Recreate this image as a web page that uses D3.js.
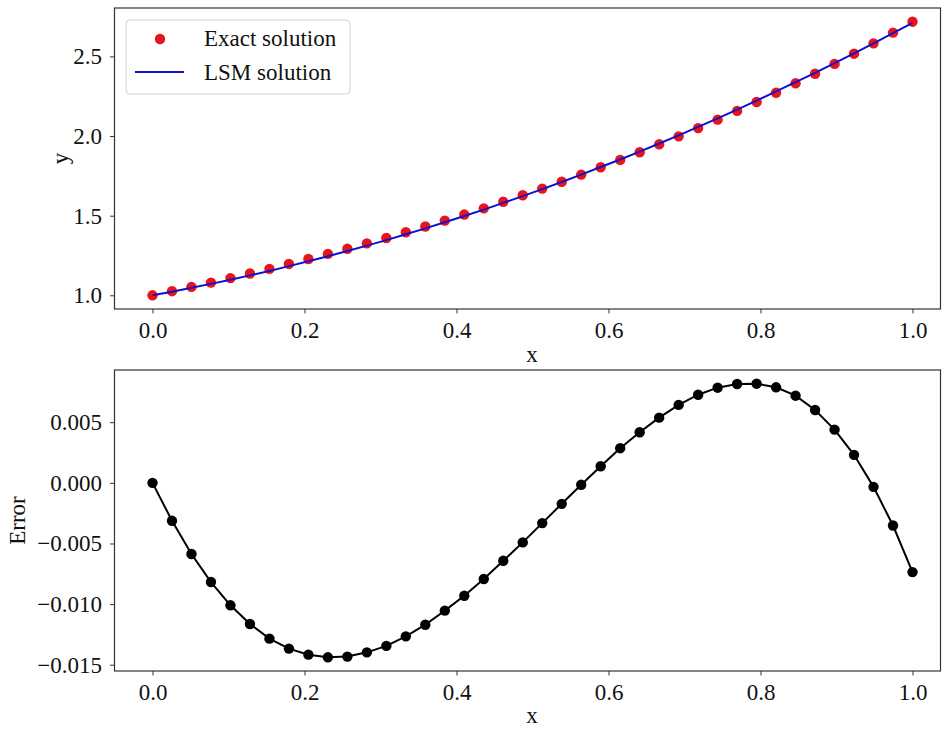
<!DOCTYPE html>
<html>
<head>
<meta charset="utf-8">
<script src="https://cdn.jsdelivr.net/npm/d3@7"></script>
<style>
  html, body { margin: 0; padding: 0; background: #fff; }
  svg { display: block; }
  text { font-family: "Liberation Serif", "Times New Roman", serif; fill: #111; }
</style>
</head>
<body>
<svg id="chart" width="942" height="733"></svg>
<script>
// Collocation nodes x_i = i/39, i = 0..39
const xNodes = d3.range(40).map(i => i / 39);

// Exact solution at the nodes
const exactValues = [
  1.000, 1.026, 1.053, 1.080, 1.108, 1.137, 1.166, 1.197, 1.228, 1.260,
  1.292, 1.326, 1.360, 1.396, 1.432, 1.469, 1.507, 1.546, 1.587, 1.628,
  1.670, 1.713, 1.758, 1.804, 1.850, 1.898, 1.948, 1.998, 2.050, 2.103,
  2.158, 2.214, 2.272, 2.331, 2.391, 2.453, 2.517, 2.582, 2.649, 2.718
];

// Error of the least-squares solution at the nodes
const errorValues = [
   0.00000, -0.00313, -0.00587, -0.00818, -0.01010, -0.01164, -0.01285, -0.01367, -0.01417, -0.01439,
  -0.01433, -0.01398, -0.01345, -0.01266, -0.01170, -0.01054, -0.00931, -0.00793, -0.00643, -0.00491,
  -0.00332, -0.00173, -0.00016,  0.00137,  0.00286,  0.00417,  0.00538,  0.00643,  0.00727,  0.00785,
   0.00815,  0.00818,  0.00788,  0.00719,  0.00601,  0.00439,  0.00231, -0.00033, -0.00352, -0.00736
];

// LSM solution = exact + error
const lsmValues = exactValues.map((v, i) => v + errorValues[i]);

const xTicks = [0.0, 0.2, 0.4, 0.6, 0.8, 1.0];
const yTicksTop = [1.0, 1.5, 2.0, 2.5];
const yTicksBottom = [0.005, 0.000, -0.005, -0.010, -0.015];
const legendLabels = ["Exact solution", "LSM solution"];

const svg = d3.select("#chart");
const W = 942;
const FONT = 23;
const spineColor = "#333";

// Panel layout
const left = 114.5, right = 950.5;
const panels = {
  top:    { y0: 8,   y1: 309 },
  bottom: { y0: 370, y1: 671 }
};

function pad(ext) {
  const m = (ext[1] - ext[0]) * 0.05;
  return [ext[0] - m, ext[1] + m];
}

const x = d3.scaleLinear().domain([-0.05, 1.05]).range([left, right]);

function drawFrame(g, p) {
  g.append("rect")
    .attr("x", left).attr("y", p.y0)
    .attr("width", Math.min(right, W - 1.5) - left).attr("height", p.y1 - p.y0)
    .attr("fill", "none").attr("stroke", spineColor).attr("stroke-width", 1.2);
}

function styleAxis(sel) {
  sel.selectAll(".domain").remove();
  sel.selectAll(".tick line").attr("stroke", spineColor).attr("stroke-width", 1);
  sel.selectAll(".tick text")
    .style("font-family", '"Liberation Serif", serif')
    .style("font-size", FONT + "px")
    .attr("fill", "#111");
}

// ---------- Top panel: solutions ----------
const pt = panels.top;
const yTop = d3.scaleLinear().domain(pad(d3.extent(exactValues))).range([pt.y1, pt.y0]);
const gTop = svg.append("g");

svg.append("clipPath").attr("id", "clipTop")
  .append("rect").attr("x", left).attr("y", pt.y0).attr("width", right - left).attr("height", pt.y1 - pt.y0);

gTop.append("g").attr("transform", `translate(0,${pt.y1})`)
  .call(d3.axisBottom(x).tickValues(xTicks).tickFormat(d3.format(".1f")).tickSizeOuter(0).tickSize(4.5).tickPadding(8))
  .call(styleAxis);
gTop.append("g").attr("transform", `translate(${left},0)`)
  .call(d3.axisLeft(yTop).tickValues(yTicksTop).tickFormat(d3.format(".1f")).tickSizeOuter(0).tickSize(4.5).tickPadding(8))
  .call(styleAxis);

const plotTop = gTop.append("g").attr("clip-path", "url(#clipTop)");
plotTop.selectAll("circle.exact").data(xNodes).join("circle")
  .attr("class", "exact")
  .attr("cx", d => x(d)).attr("cy", (d, i) => yTop(exactValues[i]))
  .attr("r", 5.2).attr("fill", "#e8141c");
plotTop.append("path")
  .datum(xNodes)
  .attr("d", d3.line().x(d => x(d)).y((d, i) => yTop(lsmValues[i])))
  .attr("fill", "none").attr("stroke", "#1010c8").attr("stroke-width", 2);

drawFrame(gTop, pt);

gTop.append("text").attr("x", 532).attr("y", 362).attr("text-anchor", "middle")
  .style("font-size", FONT + "px").text("x");
gTop.append("text").attr("transform", `translate(68,${(pt.y0 + pt.y1) / 2}) rotate(-90)`)
  .attr("text-anchor", "middle").style("font-size", FONT + "px").text("y");

// Legend
const lg = gTop.append("g");
lg.append("rect").attr("x", 126).attr("y", 20).attr("width", 224).attr("height", 74)
  .attr("rx", 4).attr("fill", "#fff").attr("fill-opacity", 0.9)
  .attr("stroke", "#d0d0d0").attr("stroke-width", 1);
lg.append("circle").attr("cx", 160).attr("cy", 39).attr("r", 5.2).attr("fill", "#e8141c");
lg.append("line").attr("x1", 135).attr("x2", 184).attr("y1", 72).attr("y2", 72)
  .attr("stroke", "#1010c8").attr("stroke-width", 2);
lg.selectAll("text.lab").data(legendLabels).join("text")
  .attr("class", "lab")
  .attr("x", 204).attr("y", (d, i) => 46 + i * 34)
  .style("font-size", FONT + "px").text(d => d);

// ---------- Bottom panel: error ----------
const pb = panels.bottom;
const yBot = d3.scaleLinear().domain(pad(d3.extent(errorValues))).range([pb.y1, pb.y0]);
const gBot = svg.append("g");

svg.append("clipPath").attr("id", "clipBot")
  .append("rect").attr("x", left).attr("y", pb.y0).attr("width", right - left).attr("height", pb.y1 - pb.y0);

const minusFmt = d => d3.format(".3f")(d).replace("-", "\u2212");

gBot.append("g").attr("transform", `translate(0,${pb.y1})`)
  .call(d3.axisBottom(x).tickValues(xTicks).tickFormat(d3.format(".1f")).tickSizeOuter(0).tickSize(4.5).tickPadding(8))
  .call(styleAxis);
gBot.append("g").attr("transform", `translate(${left},0)`)
  .call(d3.axisLeft(yBot).tickValues(yTicksBottom).tickFormat(minusFmt).tickSizeOuter(0).tickSize(4.5).tickPadding(8))
  .call(styleAxis);

const plotBot = gBot.append("g").attr("clip-path", "url(#clipBot)");
plotBot.append("path")
  .datum(xNodes)
  .attr("d", d3.line().x(d => x(d)).y((d, i) => yBot(errorValues[i])))
  .attr("fill", "none").attr("stroke", "#000").attr("stroke-width", 2);
plotBot.selectAll("circle.err").data(xNodes).join("circle")
  .attr("class", "err")
  .attr("cx", d => x(d)).attr("cy", (d, i) => yBot(errorValues[i]))
  .attr("r", 5.2).attr("fill", "#000");

drawFrame(gBot, pb);

gBot.append("text").attr("x", 532).attr("y", 723).attr("text-anchor", "middle")
  .style("font-size", FONT + "px").text("x");
gBot.append("text").attr("transform", `translate(25,${(pb.y0 + pb.y1) / 2}) rotate(-90)`)
  .attr("text-anchor", "middle").style("font-size", FONT + "px").text("Error");
</script>
</body>
</html>
